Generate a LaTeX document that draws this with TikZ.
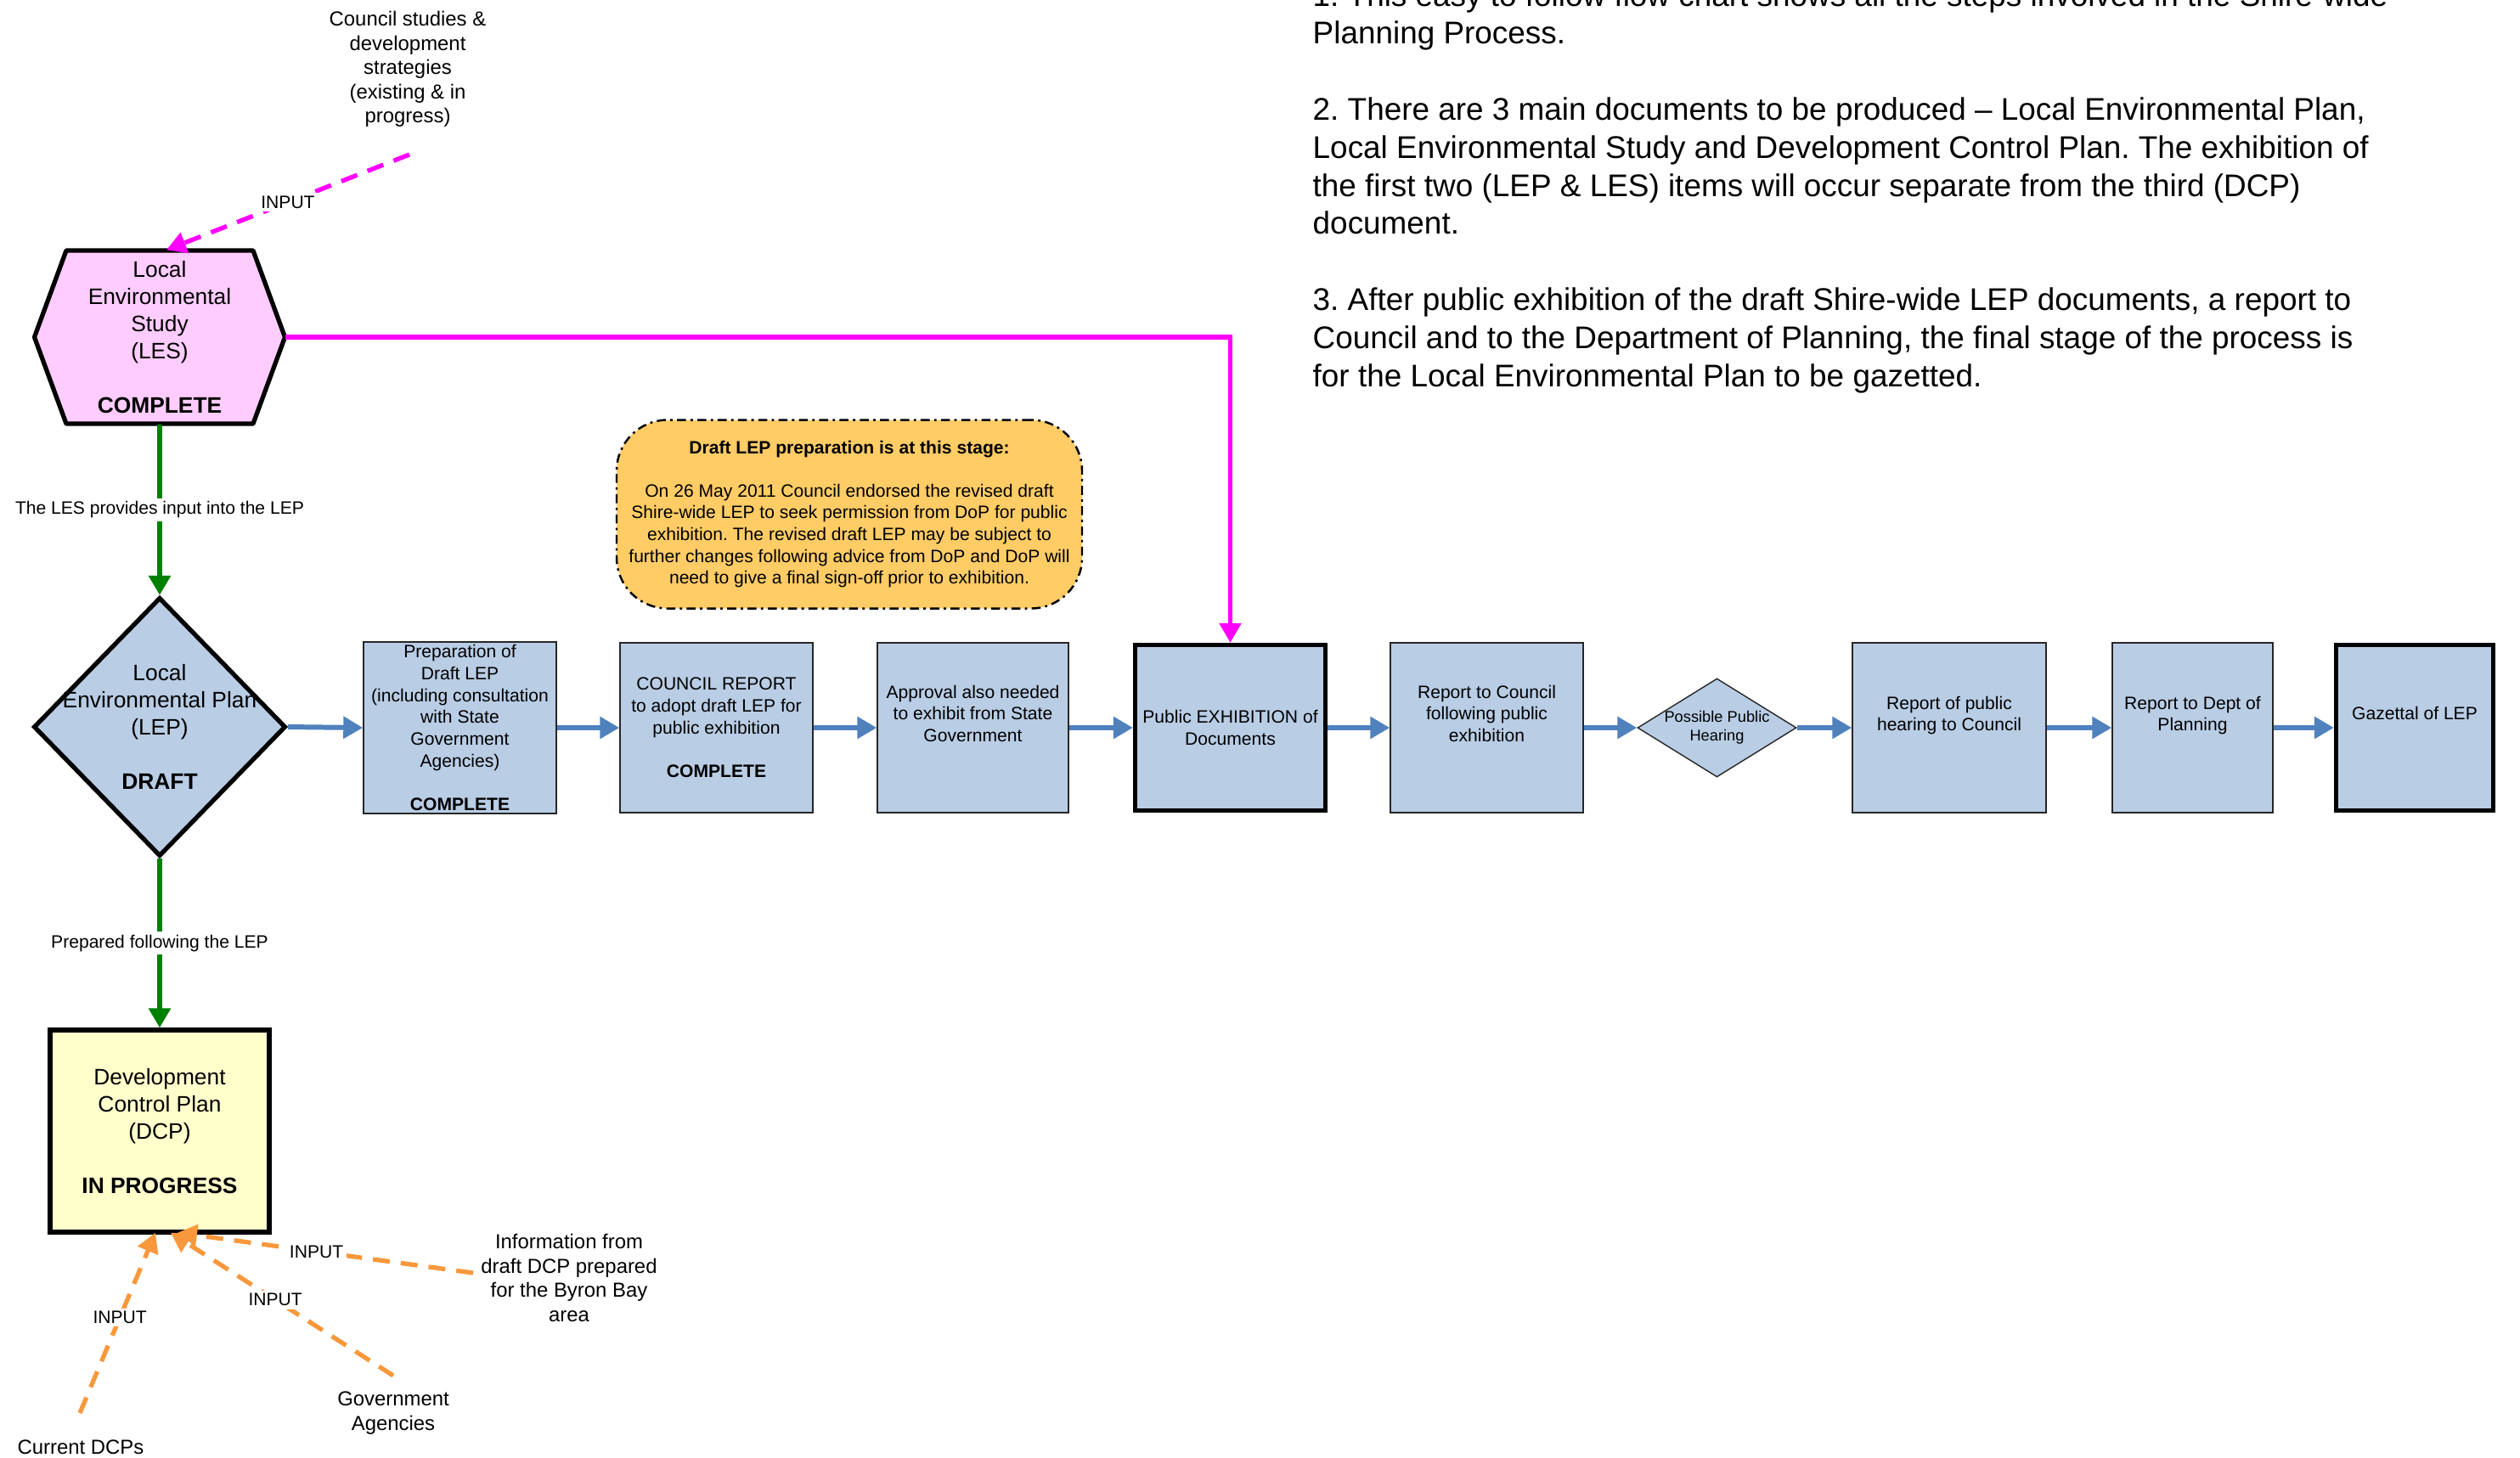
\documentclass[tikz,border=0pt]{standalone}
\usepackage{fontspec}
\setmainfont{Liberation Sans}
\usetikzlibrary{arrows.meta}
\usetikzlibrary{calc}
\usetikzlibrary{shapes.geometric}
\usepackage{xcolor}
\frenchspacing

\definecolor{stepblue}{RGB}{185,205,229}
\definecolor{flowblue}{RGB}{79,129,189}
\definecolor{lespink}{RGB}{255,204,255}
\definecolor{dcpyellow}{RGB}{255,255,204}
\definecolor{noteorange}{RGB}{255,204,102}
\definecolor{inputorange}{RGB}{248,152,60}
\definecolor{linkgreen}{RGB}{0,128,0}
\definecolor{lesmagenta}{RGB}{255,0,255}

\tikzset{
  stepbox/.style={draw=black!85, line width=0.4pt, fill=stepblue, minimum width=2.27cm,
    minimum height=2cm, align=center, inner sep=1pt, font=\fontsize{6}{7.3}\selectfont},
  keybox/.style={stepbox, draw=black, line width=1.5pt},
  plantext/.style={align=center, font=\fontsize{7.5}{9.07}\selectfont},
  source/.style={align=center, font=\fontsize{6.8}{8.1}\selectfont},
  tag/.style={fill=white, text=black, inner sep=1pt, font=\fontsize{6}{7.2}\selectfont},
  notetext/.style={anchor=base west, inner sep=0, font=\fontsize{10.5}{12.75}\selectfont},
  tip/.style={-{Triangle[length=2.3mm,width=2.5mm]}},
  flow/.style={tip, flowblue, line width=1.7pt},
  feed/.style={tip, linkgreen, line width=1.7pt},
  input/.style={tip, line width=1.5pt, dash pattern=on 2mm off 1.3mm},
}

\begin{document}
\begin{tikzpicture}

        % Page
        \path[use as bounding box, fill=white] (0,0) rectangle (29.67,-17.16);

        % Notes
        \foreach \k/\txt in {
          0/{1. This easy to follow flow chart shows all the steps involved in the Shire-wide},
          1/{Planning Process.},
          3/{2. There are 3 main documents to be produced -- Local Environmental Plan,},
          4/{Local Environmental Study and Development Control Plan. The exhibition of},
          5/{the first two (LEP \& LES) items will occur separate from the third (DCP)},
          6/{document.},
          8/{3. After public exhibition of the draft Shire-wide LEP documents, a report to},
          9/{Council and to the Department of Planning, the final stage of the process is},
          10/{for the Local Environmental Plan to be gazetted.}}
        {
          \node[notetext] (note\k) at (15.45,{-0.07-0.448*\k}) {\txt};
        }

        % Local Environmental Study
        \coordinate (lesc) at (1.88,-3.97);
        \filldraw[fill=lespink, line width=1.5pt, line join=round]
          ($(lesc)+(-1.475,0)$) -- ($(lesc)+(-1.10,1.02)$) -- ($(lesc)+(1.10,1.02)$)
          -- ($(lesc)+(1.475,0)$) -- ($(lesc)+(1.10,-1.02)$) -- ($(lesc)+(-1.10,-1.02)$) -- cycle;
        \node[plantext, minimum width=2.95cm, minimum height=2.04cm, inner sep=0] (les) at (lesc)
          {Local\\Environmental\\Study\\(LES)\\[9pt]\textbf{COMPLETE}};

        % Local Environmental Plan
        \node[diamond, draw, line width=1.5pt, fill=stepblue, minimum width=2.97cm,
          minimum height=3.05cm, inner sep=0,
          label={[plantext]center:{Local\\Environmental Plan\\(LEP)\\[9pt]\textbf{DRAFT}}}] (lep) at (1.88,-8.56) {};

        % Development Control Plan
        \node[draw, line width=1.5pt, fill=dcpyellow, plantext, minimum width=2.58cm,
          minimum height=2.38cm] (dcp) at (1.88,-13.32)
          {Development\\Control Plan\\(DCP)\\[9pt]\textbf{IN PROGRESS}};

        % Steps
        \node[stepbox] (prep) at (5.415,-8.57)
          {Preparation of\\Draft LEP\\(including consultation\\with State\\Government\\Agencies)\\[7.3pt]\textbf{COMPLETE}};
        \node[stepbox] (council) at (8.435,-8.57)
          {COUNCIL REPORT\\to adopt draft LEP for\\public exhibition\\[7.3pt]\textbf{COMPLETE}};
        \node[stepbox, minimum width=2.25cm] (approval) at (11.455,-8.57)
          {Approval also needed\\to exhibit from State\\Government\\\strut};
        \node[keybox, minimum width=2.24cm, minimum height=1.95cm] (exhib) at (14.485,-8.57)
          {Public EXHIBITION of\\Documents};
        \node[stepbox] (rptcouncil) at (17.505,-8.57)
          {Report to Council\\following public\\exhibition\\\strut};
        \node[diamond, draw=black!85, line width=0.4pt, fill=stepblue, minimum width=1.87cm,
          minimum height=1.16cm, inner sep=0,
          label={[align=center, font=\fontsize{5.2}{6.3}\selectfont]center:{Possible Public\\Hearing}}] (hear) at (20.215,-8.57) {};
        \node[stepbox, minimum width=2.28cm] (rpthear) at (22.95,-8.57)
          {Report of public\\hearing to Council\\\strut};
        \node[stepbox, minimum width=1.89cm] (rptdop) at (25.815,-8.57)
          {Report to Dept of\\Planning\\\strut};
        \node[keybox, minimum width=1.85cm, minimum height=1.95cm] (gazettal) at (28.43,-8.57)
          {Gazettal of LEP\\\strut};

        \foreach \a/\b in {lep/prep, prep/council, council/approval, approval/exhib, exhib/rptcouncil,
          rptcouncil/hear, hear/rpthear, rpthear/rptdop, rptdop/gazettal}
        {
          \draw[flow] (\a.east) -- (\b.west);
        }

        % Status note
        \node[draw, fill=noteorange, rounded corners=6mm, line width=0.7pt,
          dash pattern=on 3pt off 1.5pt on 0.8pt off 1.5pt, minimum width=5.48cm,
          minimum height=2.22cm, inner sep=0.5pt, align=center,
          font=\fontsize{6}{7.3}\selectfont] (status) at (10.0,-6.055)
          {\textbf{Draft LEP preparation is at this stage:}\\[7.3pt]
           On 26 May 2011 Council endorsed the revised draft\\
           Shire-wide LEP to seek permission from DoP for public\\
           exhibition. The revised draft LEP may be subject to\\
           further changes following advice from DoP and DoP will\\
           need to give a final sign-off prior to exhibition.};

        % LES links
        \draw[feed] (les.south) -- node[tag] {The LES provides input into the LEP} (lep.north);
        \draw[feed] (lep.south) -- node[tag] {Prepared following the LEP} (dcp.north);
        \draw[tip, lesmagenta, line width=1.5pt] (les.east) -| (exhib.north);

        % Inputs to LES
        \node[source] (studies) at (4.80,-0.815)
          {Council studies \&\\development\\strategies\\(existing \& in\\progress)};
        \coordinate (studiesend) at (4.82,-1.82);
        \draw[input, lesmagenta] (studiesend) -- node[tag, pos=0.5] {INPUT} ($(les.north)+(0.08,0)$);

        % Inputs to DCP
        \node[source] (byron) at (6.70,-15.05)
          {Information from\\draft DCP prepared\\for the Byron Bay\\area};
        \node[source] (agencies) at (4.63,-16.64) {Government\\Agencies};
        \node[source] (current) at (0.95,-17.04) {Current DCPs};
        \coordinate (byronend) at (5.57,-14.99);
        \coordinate (agenciesend) at (4.63,-16.20);
        \coordinate (currentend) at (0.94,-16.64);

        \foreach \src/\dx in {byronend/0.21, agenciesend/0.13, currentend/-0.05}
        {
          \draw[input, inputorange] (\src) -- node[tag, pos=0.53] {INPUT} ($(dcp.south)+(\dx,0.02)$);
        }

\end{tikzpicture}
\end{document}
